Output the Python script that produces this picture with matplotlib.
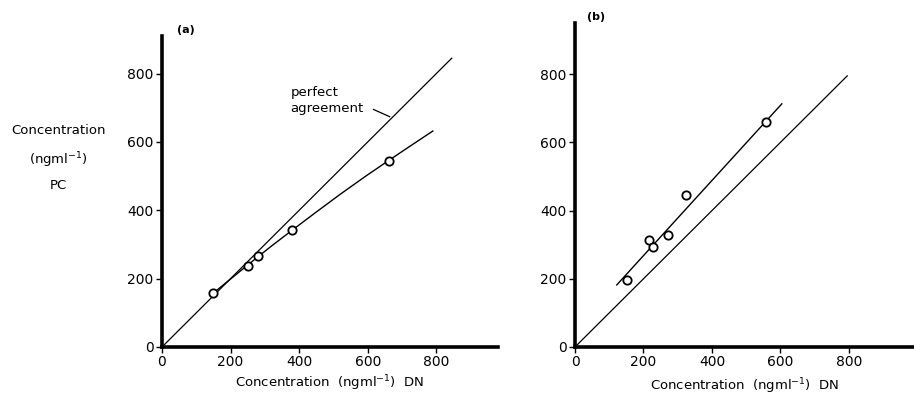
import matplotlib.pyplot as plt

# panel (a) measured points and hand-drawn curve
dn_a = [150, 252, 279, 380, 661]
pc_a = [158, 236, 265, 341, 545]
curve_a_x = [150, 200, 260, 320, 380, 450, 520, 590, 660, 730, 790]
curve_a_y = [158, 199, 248, 296, 342, 395, 447, 497, 545, 592, 632]

# panel (b) measured points and fitted line
dn_b = [153, 215, 227, 272, 325, 559]
pc_b = [195, 313, 293, 328, 446, 661]
line_b_x = [122, 604]
line_b_y = [182, 713]

# line of perfect agreement
perfect_a = [0, 845]
perfect_b = [0, 795]

ticks = [0, 200, 400, 600, 800]

plt.rcParams['font.family'] = 'DejaVu Sans'
fig = plt.figure(figsize=(9.14, 3.97), dpi=100)

W, H = 914.0, 397.0
ax_a = fig.add_axes([162 / W, 50 / H, 336 / W, 311 / H])
ax_b = fig.add_axes([575 / W, 50 / H, 339 / W, 324 / H])


def style(ax, xmax, ymax):
    ax.set_xlim(0, xmax)
    ax.set_ylim(0, ymax)
    for s in ["top", "right"]:
        ax.spines[s].set_visible(False)
    for s in ["left", "bottom"]:
        ax.spines[s].set_linewidth(2.6)
    ax.set_xticks(ticks)
    ax.set_yticks(ticks)
    ax.tick_params(direction="out", length=4, width=1, labelsize=10, pad=2)
    ax.set_facecolor("none")


style(ax_a, 980, 910)
style(ax_b, 990, 950)

# panel (a)
ax_a.plot(perfect_a, perfect_a, color="k", lw=0.9)
ax_a.plot(curve_a_x, curve_a_y, color="k", lw=1.0)
ax_a.plot(dn_a, pc_a, "o", ms=6, mfc="white", mec="k", mew=1.3, zorder=5)
ax_a.text(375, 735, "perfect", fontsize=9.5)
ax_a.text(375, 688, "agreement", fontsize=9.5)
ax_a.plot([617, 664], [695, 674], color="k", lw=0.9)
ax_a.text(45, 920, "(a)", fontsize=8, fontweight="bold", clip_on=False)
ax_a.set_xlabel("Concentration  (ngml$^{-1}$)  DN", fontsize=9.5, labelpad=3)
fig.text(58 / W, 1 - 158 / H, "Concentration\n(ngml$^{-1}$)\nPC", fontsize=9.5,
         ha="center", va="center", linespacing=1.9)

# panel (b)
ax_b.plot(perfect_b, perfect_b, color="k", lw=0.9)
ax_b.plot(line_b_x, line_b_y, color="k", lw=1.0)
ax_b.plot(dn_b, pc_b, "o", ms=6, mfc="white", mec="k", mew=1.3, zorder=5)
ax_b.text(35, 960, "(b)", fontsize=8, fontweight="bold", clip_on=False)
ax_b.set_xlabel("Concentration  (ngml$^{-1}$)  DN", fontsize=9.5, labelpad=5)

fig.savefig("out.png", dpi=100)
